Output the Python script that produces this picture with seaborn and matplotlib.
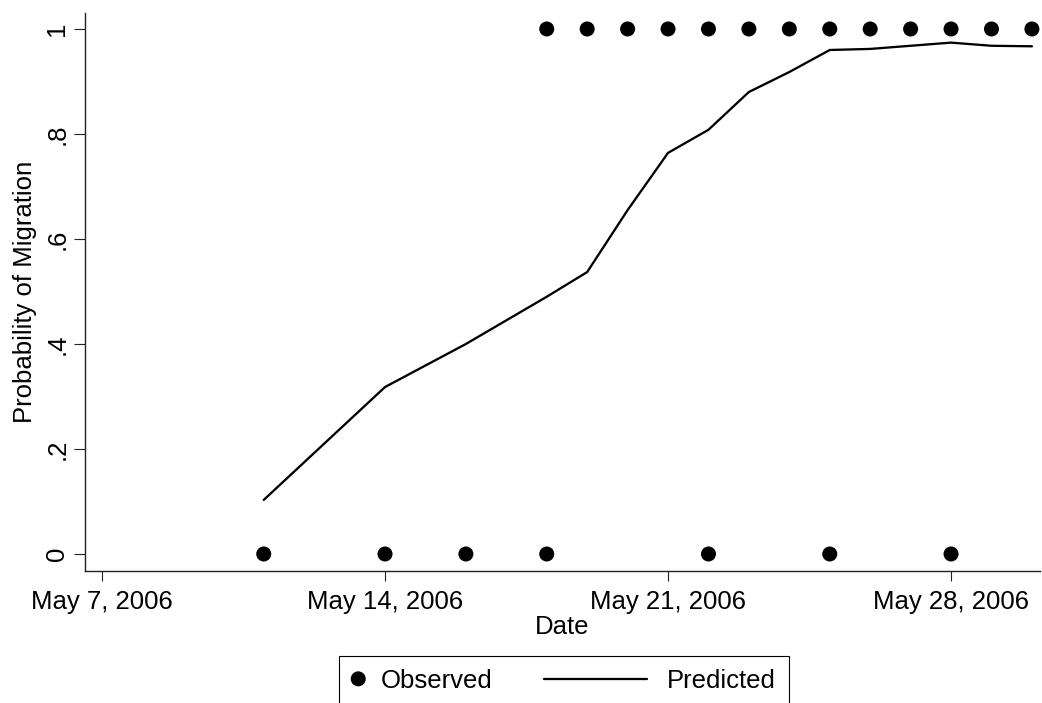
import matplotlib
matplotlib.use("Agg")
import matplotlib.pyplot as plt
import matplotlib.dates as mdates
from matplotlib.legend_handler import HandlerPathCollection, HandlerLine2D
from matplotlib.lines import Line2D
import numpy as np
import pandas as pd
import seaborn as sns

# ---- data ----
obs_dates = ["2006-05-11", "2006-05-14", "2006-05-16", "2006-05-18", "2006-05-22",
             "2006-05-25", "2006-05-28",
             "2006-05-18", "2006-05-19", "2006-05-20", "2006-05-21", "2006-05-22",
             "2006-05-23", "2006-05-24", "2006-05-25", "2006-05-26", "2006-05-27",
             "2006-05-28", "2006-05-29", "2006-05-30"]
obs_values = [0, 0, 0, 0, 0, 0, 0,
              1, 1, 1, 1, 1, 1, 1, 1, 1, 1, 1, 1, 1]

pred_dates = ["2006-05-11", "2006-05-14", "2006-05-16", "2006-05-18", "2006-05-19",
              "2006-05-20", "2006-05-21", "2006-05-22", "2006-05-23", "2006-05-24",
              "2006-05-25", "2006-05-26", "2006-05-27", "2006-05-28", "2006-05-29",
              "2006-05-30"]
pred_values = [0.103, 0.318, 0.400, 0.490, 0.537,
               0.655, 0.764, 0.808, 0.880, 0.918,
               0.960, 0.962, 0.968, 0.974, 0.968,
               0.967]

x_tick_dates = ["2006-05-07", "2006-05-14", "2006-05-21", "2006-05-28"]
x_tick_labels = ["May 7, 2006", "May 14, 2006", "May 21, 2006", "May 28, 2006"]
y_ticks = [0, 0.2, 0.4, 0.6, 0.8, 1.0]
y_tick_labels = ["0", ".2", ".4", ".6", ".8", "1"]

obs_df = pd.DataFrame({"date": pd.to_datetime(obs_dates), "value": obs_values})
pred_df = pd.DataFrame({"date": pd.to_datetime(pred_dates), "value": pred_values})

# ---- style ----
sns.set_theme(style="ticks")
plt.rcParams["font.family"] = ["Liberation Sans", "DejaVu Sans"]
plt.rcParams["text.color"] = "black"
FS = 18.5

W, H = 1042, 703
fig = plt.figure(figsize=(W / 100, H / 100), dpi=100)
fig.patch.set_facecolor("white")
left, right, top, bottom = 84.5, 1040, 12.7, 571
ax = fig.add_axes([left / W, 1 - bottom / H, (right - left) / W, (bottom - top) / H])
ax.set_facecolor("white")

sns.scatterplot(data=obs_df, x="date", y="value", color="black", s=117,
                edgecolor="none", linewidth=0, ax=ax, label="Observed", zorder=3)
sns.lineplot(data=pred_df, x="date", y="value", color="black", linewidth=1.65,
             ax=ax, label="Predicted")

# axes limits
x0 = mdates.date2num(pd.Timestamp("2006-05-07"))
ax.set_xlim(x0 - 0.433, x0 + 23.2)
ax.set_ylim(-0.0324, 1.031)

ax.set_xticks([mdates.date2num(pd.Timestamp(d)) for d in x_tick_dates])
ax.set_xticklabels(x_tick_labels, fontsize=FS, color="black")
ax.set_yticks(y_ticks)
ax.set_yticklabels(y_tick_labels, fontsize=FS, color="black", rotation=90, va="center")

ax.tick_params(axis="x", direction="out", length=7.5, width=0.8, color="#222222", pad=6.5)
ax.tick_params(axis="y", direction="out", length=8, width=0.8, color="#222222", pad=3)

for s in ["top", "right"]:
    ax.spines[s].set_visible(False)
for s in ["left", "bottom"]:
    ax.spines[s].set_color("#222222")
    ax.spines[s].set_linewidth(1.0)

ax.set_xlabel("Date", fontsize=FS, color="black", labelpad=0.5)
ax.set_ylabel("Probability of Migration", fontsize=FS, color="black")
ax.yaxis.set_label_coords((37 - left) / (right - left), 0.5)
ax.grid(False)

# ---- legend ----
handles, labels = ax.get_legend_handles_labels()
if ax.get_legend() is not None:
    ax.get_legend().remove()


class DotHandler(HandlerPathCollection):
    def get_xdata(self, legend, xdescent, ydescent, width, height, fontsize):
        x = np.array([-xdescent + 0.335 * width])
        return x, x


class LongLine(HandlerLine2D):
    def create_artists(self, legend, orig_handle, xdescent, ydescent, width,
                       height, fontsize, trans):
        y = height / 2.0 - ydescent
        xa = -xdescent + width - 4.385 * fontsize
        xb = -xdescent + width - 0.377 * fontsize
        line = Line2D([xa, xb], [y, y])
        self.update_prop(line, orig_handle, legend)
        line.set_marker("None")
        line.set_transform(trans)
        return [line]


hmap = {}
for h in handles:
    if isinstance(h, Line2D):
        hmap[h] = LongLine()
    else:
        hmap[h] = DotHandler(numpoints=1)

leg = fig.legend(handles, labels, loc="upper left",
                 bbox_to_anchor=(339 / W, 1 - 656 / H), borderaxespad=0,
                 ncol=2, fontsize=FS, frameon=True, fancybox=False,
                 edgecolor="black", framealpha=1, borderpad=0.5,
                 handlelength=0.743, handletextpad=0.4, columnspacing=5.63,
                 scatterpoints=1, scatteryoffsets=[0.5], handler_map=hmap,
                 labelcolor="black")
leg.get_frame().set_linewidth(0.8)

fig.savefig("out.png", dpi=100, facecolor="white")
